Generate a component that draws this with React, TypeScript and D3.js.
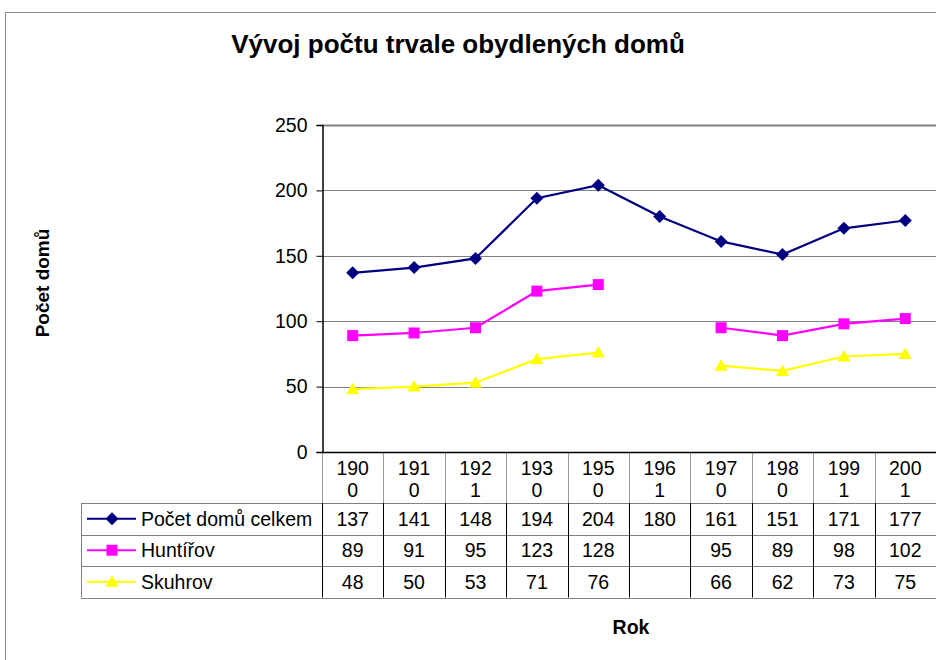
import { useEffect, useRef } from "react";
import * as d3 from "d3";

const years = ["1900", "1910", "1921", "1930", "1950", "1961", "1970", "1980", "1991", "2001"];
const celkem = [137, 141, 148, 194, 204, 180, 161, 151, 171, 177];
const huntirov = [89, 91, 95, 123, 128, null, 95, 89, 98, 102];
const skuhrov = [48, 50, 53, 71, 76, null, 66, 62, 73, 75];
const yTicks = [0, 50, 100, 150, 200, 250];

const FONT = "Arial, 'Liberation Sans', sans-serif";
const FS = 19.5;

const series = [
  { name: "Počet domů celkem", values: celkem, color: "#000080", marker: "diamond" },
  { name: "Huntířov", values: huntirov, color: "#FF00FF", marker: "square" },
  { name: "Skuhrov", values: skuhrov, color: "#FFFF00", marker: "triangle" },
];

const App = () => {
  const svgRef = useRef<SVGSVGElement>(null);

  useEffect(() => {
    const svg = d3.select(svgRef.current);
    svg.selectAll("*").remove();

    const left = 322, right = 936, top = 125, bottom = 452;
    const tableLeft = 81;
    const headerBottom = 503;
    const rowH = 31.5;

    const x = d3.scaleBand<string>().domain(years).range([left, right]);
    const y = d3.scaleLinear().domain([0, 250]).range([bottom, top]);

    // outer chart border
    svg.append("rect").attr("x", 5.5).attr("y", 12.5).attr("width", 1000).attr("height", 1000)
      .attr("fill", "white").attr("stroke", "#8c8c8c").attr("stroke-width", 1);

    svg.append("text").attr("x", 458).attr("y", 53).attr("text-anchor", "middle")
      .attr("font-family", FONT).attr("font-weight", "bold").attr("font-size", 26)
      .text("Vývoj počtu trvale obydlených domů");

    // gridlines
    svg.append("g").selectAll("line").data(yTicks.filter(d => d > 0)).join("line")
      .attr("x1", left).attr("x2", right)
      .attr("y1", d => Math.round(y(d)) + 0.5).attr("y2", d => Math.round(y(d)) + 0.5)
      .attr("stroke", "#808080").attr("stroke-width", d => (d === 250 ? 2 : 1));

    // y axis
    const yAxis = d3.axisLeft(y).tickValues(yTicks).tickSize(6).tickPadding(9);
    const ya = svg.append("g").attr("transform", `translate(${left + 0.5},0)`).call(yAxis);
    ya.select(".domain").attr("stroke", "black").attr("stroke-width", 1.5);
    ya.selectAll(".tick line").attr("stroke", "black");
    ya.selectAll(".tick text").attr("font-family", FONT).attr("font-size", FS).attr("fill", "black");

    svg.append("text").attr("transform", "translate(49,283) rotate(-90)").attr("text-anchor", "middle")
      .attr("font-family", FONT).attr("font-weight", "bold").attr("font-size", 19).text("Počet domů");

    // table
    const tableBottom = headerBottom + rowH * series.length;
    const tg = svg.append("g");
    d3.range(series.length + 1).forEach(i => {
      const yy = Math.round(headerBottom + i * rowH) + 0.5;
      tg.append("line").attr("x1", tableLeft).attr("x2", right).attr("y1", yy).attr("y2", yy)
        .attr("stroke", "#808080").attr("stroke-width", 1.2);
    });
    tg.append("line").attr("x1", tableLeft + 0.5).attr("x2", tableLeft + 0.5)
      .attr("y1", headerBottom).attr("y2", tableBottom).attr("stroke", "#808080");
    years.forEach(yr => {
      const xx = Math.round(x(yr)!) + 0.5;
      tg.append("line").attr("x1", xx).attr("x2", xx).attr("y1", bottom).attr("y2", headerBottom)
        .attr("stroke", "#9a9a9a");
      tg.append("line").attr("x1", xx).attr("x2", xx).attr("y1", headerBottom).attr("y2", tableBottom)
        .attr("stroke", "black");
    });
    svg.append("line").attr("x1", left).attr("x2", right).attr("y1", bottom + 0.5).attr("y2", bottom + 0.5)
      .attr("stroke", "black").attr("stroke-width", 1.5);

    // header labels (wrapped like the narrow Excel cells)
    years.forEach(yr => {
      const cx = x(yr)! + x.bandwidth() / 2;
      const t = tg.append("text").attr("text-anchor", "middle").attr("font-family", FONT).attr("font-size", FS);
      t.append("tspan").attr("x", cx).attr("y", 475).text(yr.slice(0, 3));
      t.append("tspan").attr("x", cx).attr("y", 497).text(yr.slice(3));
    });

    const markerPath = (m: string) => {
      if (m === "diamond") return "M0,-6.5L6.5,0L0,6.5L-6.5,0Z";
      if (m === "square") return "M-5.5,-5.5H5.5V5.5H-5.5Z";
      return "M0,-6.5L6.5,5H-6.5Z";
    };

    series.forEach((s, i) => {
      const cy = headerBottom + i * rowH + rowH / 2;
      tg.append("line").attr("x1", 87).attr("x2", 136).attr("y1", cy).attr("y2", cy)
        .attr("stroke", s.color).attr("stroke-width", 2.2);
      tg.append("path").attr("d", markerPath(s.marker)).attr("transform", `translate(112,${cy})`)
        .attr("fill", s.color);
      tg.append("text").attr("x", 141).attr("y", cy + 7).attr("font-family", FONT).attr("font-size", FS)
        .text(s.name);
      s.values.forEach((v, j) => {
        if (v == null) return;
        tg.append("text").attr("x", x(years[j])! + x.bandwidth() / 2).attr("y", cy + 7)
          .attr("text-anchor", "middle").attr("font-family", FONT).attr("font-size", FS).text(v);
      });

      const line = d3.line<number | null>()
        .defined(d => d != null)
        .x((d, k) => x(years[k])! + x.bandwidth() / 2)
        .y(d => y(d as number));
      svg.append("path").datum(s.values).attr("d", line).attr("fill", "none")
        .attr("stroke", s.color).attr("stroke-width", 2.2);
      svg.append("g").selectAll("path").data(s.values.map((v, k) => ({ v, k })).filter(d => d.v != null)).join("path")
        .attr("d", markerPath(s.marker))
        .attr("transform", d => `translate(${x(years[d.k])! + x.bandwidth() / 2},${y(d.v as number)})`)
        .attr("fill", s.color);
    });

    svg.append("text").attr("x", 631).attr("y", 634).attr("text-anchor", "middle")
      .attr("font-family", FONT).attr("font-weight", "bold").attr("font-size", 19.5).text("Rok");
  }, []);

  return (
    <svg ref={svgRef} width={936} height={660}
      style={{ position: "absolute", left: 0, top: 0, background: "white" }} />
  );
};

export default App;
